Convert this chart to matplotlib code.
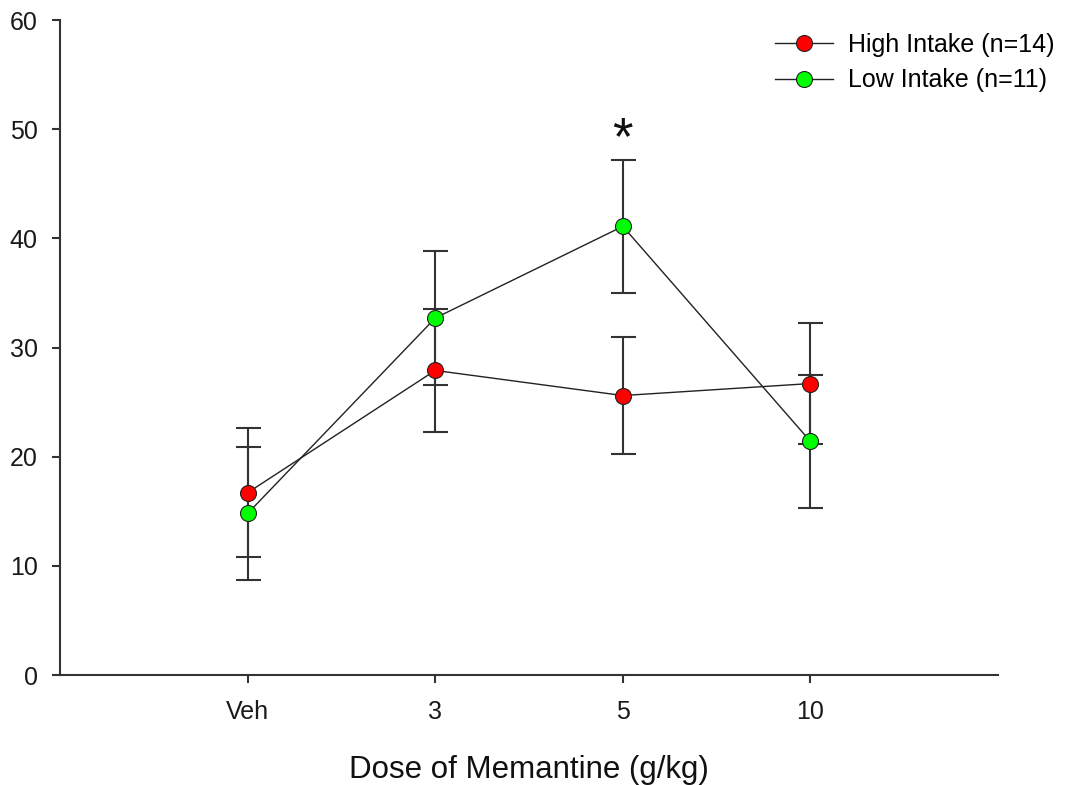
import matplotlib
matplotlib.use("Agg")
import matplotlib.pyplot as plt
import numpy as np

plt.rcParams['font.family'] = ['Liberation Sans', 'DejaVu Sans']

doses = ["Veh", "3", "5", "10"]
high_mean = [16.7, 27.9, 25.6, 26.7]
high_sem = [5.9, 5.6, 5.35, 5.55]
low_mean = [14.8, 32.7, 41.1, 21.4]
low_sem = [6.1, 6.1, 6.1, 6.1]
high_label = "High Intake (n=14)"
low_label = "Low Intake (n=11)"
star_dose = "5"
star_y = 49.0

fig = plt.figure(figsize=(10.68, 7.85), dpi=100)
ax = fig.add_axes([0.0562, 0.1401, 0.8783, 0.8344])

x = np.arange(1, len(doses) + 1)
axis_col = "#333333"

for mean, sem, col, lab in [(high_mean, high_sem, "#ff0000", high_label),
                            (low_mean, low_sem, "#00ff00", low_label)]:
    ax.errorbar(x, mean, yerr=sem, fmt="none", ecolor=axis_col,
                elinewidth=1.5, capsize=9, capthick=1.5, zorder=2)
    ax.plot(x, mean, color="#222222", linewidth=1.0, marker="o",
            markersize=11.5, markerfacecolor=col, markeredgecolor="#222222",
            markeredgewidth=0.8, label=lab, zorder=3)

ax.text(x[doses.index(star_dose)], star_y, "*", ha="center", va="center",
        fontsize=38, color="#111111")

ax.set_xlim(0, 5)
ax.set_ylim(0, 60)
ax.set_xticks(x)
ax.set_xticklabels(doses)
ax.set_yticks(np.arange(0, 61, 10))

for s in ["top", "right"]:
    ax.spines[s].set_visible(False)
for s in ["left", "bottom"]:
    ax.spines[s].set_color(axis_col)
    ax.spines[s].set_linewidth(1.5)

ax.tick_params(axis="both", direction="out", length=6, width=1.5,
               color=axis_col, labelsize=18, labelcolor="#1a1a1a")
ax.tick_params(axis="y", pad=10)
ax.tick_params(axis="x", pad=12)

ax.set_xlabel("Dose of Memantine (g/kg)", fontsize=22.5, color="#111111",
              labelpad=22)

leg = ax.legend(loc="upper left", bbox_to_anchor=(775 / 1068, 1 - 33 / 785),
                bbox_transform=fig.transFigure, frameon=False,
                fontsize=18, handlelength=2.3, handletextpad=0.6,
                labelspacing=0.45, borderaxespad=0, borderpad=0)

fig.savefig("out.png", dpi=100)
